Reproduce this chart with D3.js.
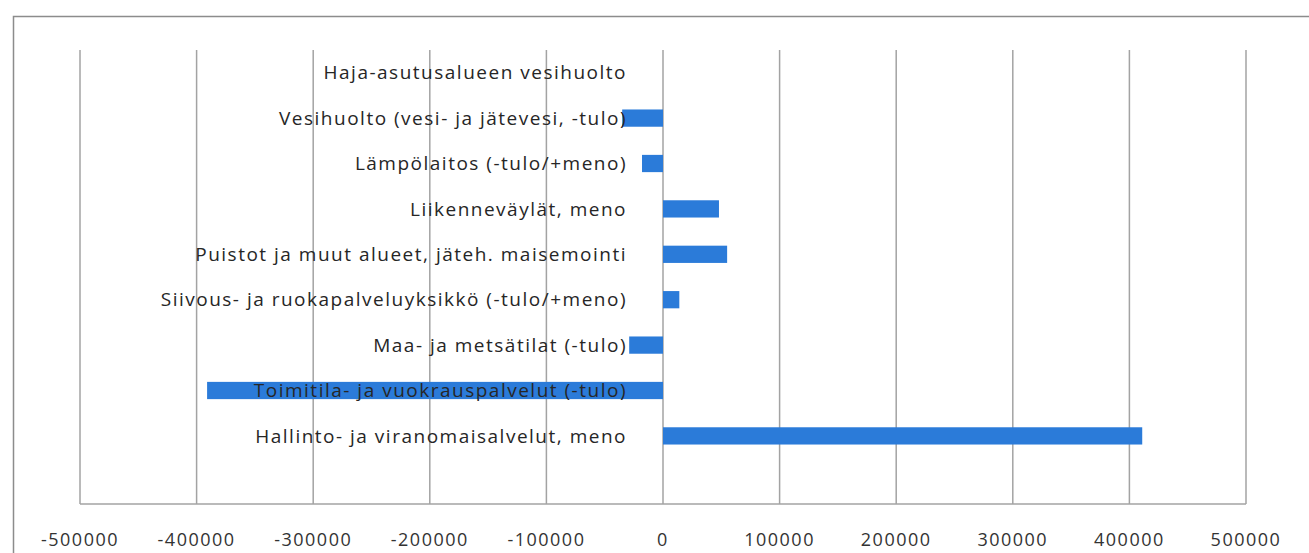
<!DOCTYPE html>
<html>
<head>
<meta charset="utf-8">
<script src="https://cdn.jsdelivr.net/npm/d3@7"></script>
<style>
  body { margin: 0; background: #fff; }
  svg { display: block; }
</style>
</head>
<body>
<svg id="chart"></svg>
<script>
const categories = [
  'Haja-asutusalueen vesihuolto',
  'Vesihuolto (vesi- ja jätevesi, -tulo)',
  'Lämpölaitos (-tulo/+meno)',
  'Liikenneväylät, meno',
  'Puistot ja muut alueet, jäteh. maisemointi',
  'Siivous- ja ruokapalveluyksikkö (-tulo/+meno)',
  'Maa- ja metsätilat (-tulo)',
  'Toimitila- ja vuokrauspalvelut (-tulo)',
  'Hallinto- ja viranomaisalvelut, meno'
];
const values = [0, -35000, -18000, 48000, 55000, 14000, -29000, -391000, 411000];
const ticks = [-500000, -400000, -300000, -200000, -100000, 0, 100000, 200000, 300000, 400000, 500000];

const config = {
  width: 1309,
  height: 553,
  plot: { left: 80, right: 1246, top: 50, bottom: 504 },
  labelEnd: 627,
  barColor: '#2b7bd9',
  gridColor: '#a3a3a3',
  font: '"Open Sans", "DejaVu Sans", sans-serif'
};

drawChart(config);

function drawChart(config) {
  const svg = d3.select('#chart')
    .attr('width', config.width)
    .attr('height', config.height);

  // outer frame of the chart object
  svg.append('rect')
    .attr('x', 13.5)
    .attr('y', 16.5)
    .attr('width', config.width)
    .attr('height', config.height)
    .style('fill', 'none')
    .style('stroke', '#8c8c8c')
    .style('stroke-width', 1.5);

  const x = d3.scaleLinear()
    .domain([ticks[0], ticks[ticks.length - 1]])
    .range([config.plot.left, config.plot.right]);

  const step = (config.plot.bottom - config.plot.top) / (categories.length + 1);
  const y = d3.scaleBand()
    .domain(categories)
    .range([config.plot.top, config.plot.top + step * categories.length])
    .paddingInner(0.62)
    .paddingOuter(0.31);

  // vertical gridlines
  svg.append('g')
    .selectAll('line')
    .data(ticks)
    .enter()
    .append('line')
    .attr('x1', d => x(d))
    .attr('x2', d => x(d))
    .attr('y1', config.plot.top)
    .attr('y2', config.plot.bottom)
    .style('stroke', config.gridColor)
    .style('stroke-width', 1.5);

  svg.append('line')
    .attr('x1', config.plot.left)
    .attr('x2', config.plot.right)
    .attr('y1', config.plot.bottom)
    .attr('y2', config.plot.bottom)
    .style('stroke', config.gridColor)
    .style('stroke-width', 1.5);

  // bars
  svg.append('g')
    .selectAll('rect')
    .data(values)
    .enter()
    .append('rect')
    .attr('x', d => x(Math.min(0, d)))
    .attr('width', d => Math.abs(x(d) - x(0)))
    .attr('y', (d, i) => y(categories[i]))
    .attr('height', y.bandwidth())
    .style('fill', config.barColor);

  // category labels
  svg.append('g')
    .selectAll('text')
    .data(categories)
    .enter()
    .append('text')
    .attr('x', config.labelEnd)
    .attr('y', d => y(d) + y.bandwidth() / 2)
    .attr('dy', '.35em')
    .attr('text-anchor', 'end')
    .style('font-family', config.font)
    .style('font-size', '19px')
    .style('letter-spacing', '1.5px')
    .style('fill', '#262626')
    .text(d => d);

  // tick labels
  svg.append('g')
    .selectAll('text')
    .data(ticks)
    .enter()
    .append('text')
    .attr('x', d => x(d))
    .attr('y', 540)
    .attr('dy', '.35em')
    .attr('text-anchor', 'middle')
    .style('font-family', config.font)
    .style('font-size', '18px')
    .style('letter-spacing', '1.5px')
    .style('fill', '#333')
    .text(d => d);
}
</script>
</body>
</html>
